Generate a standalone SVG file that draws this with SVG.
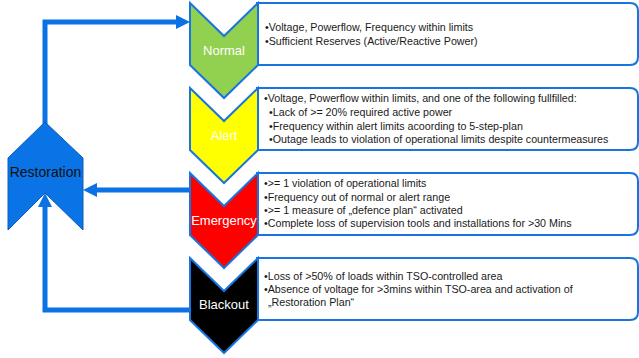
<svg xmlns="http://www.w3.org/2000/svg" width="639" height="358" viewBox="0 0 639 358">
<defs>
<style>
.box{fill:#fff;stroke:#1874E0;stroke-width:2}
.chev{stroke:#1874E0;stroke-width:2;stroke-linejoin:miter}
.lbl{font-family:"Liberation Sans",Arial,sans-serif;font-size:13px;fill:#fff;text-anchor:middle}
.txt{font-family:"Liberation Sans",Arial,sans-serif;font-size:10.7px;fill:#1a1a1a}
.conn{fill:none;stroke:#0A72E2;stroke-width:5;stroke-linejoin:miter}
</style>
<marker id="ah" markerUnits="userSpaceOnUse" markerWidth="16" markerHeight="16" viewBox="0 -8 16 16" refX="0" refY="0" orient="auto">
<path d="M0,-7 L14,0 L0,7 Z" fill="#0A72E2"/>
</marker>
</defs>
<rect width="639" height="358" fill="#fff"/>
<g id="connectors">
<path class="conn" d="M45,124 V22 H176" marker-end="url(#ah)"/>
<path class="conn" d="M191,190 H97" marker-end="url(#ah)"/>
<path class="conn" d="M191,310 H45 V207" marker-end="url(#ah)"/>
</g>
<g id="restoration">
<path d="M45,122 L83,158 V230 L45,193 L8,230 V158 Z" fill="#0A74E6" stroke="#0A5CB8" stroke-width="1"/>
<text x="45.5" y="177" font-family="Liberation Sans,Arial,sans-serif" font-size="14" fill="#111" text-anchor="middle">Restoration</text>
</g>
<g id="normal">
<path class="box" d="M257,3 H630 Q638,3 638,11 V57 Q638,65 630,65 H257 Z"/>
<path class="chev" fill="#92D050" d="M190,3 L224,36 L258,3 V65 L224,98 L190,65 Z"/>
<text class="lbl" x="224" y="55">Normal</text>
<text class="txt" x="265" y="31">•Voltage, Powerflow, Frequency within limits</text>
<text class="txt" x="265" y="45">•Sufficient Reserves (Active/Reactive Power)</text>
</g>
<g id="alert">
<path class="box" d="M257,88 H630 Q638,88 638,96 V142 Q638,150 630,150 H257 Z"/>
<path class="chev" fill="#FFFF00" d="M190,88 L224,121 L258,88 V150 L224,183 L190,150 Z"/>
<text class="lbl" x="224" y="140">Alert</text>
<text class="txt" x="264" y="102">•Voltage, Powerflow within limits, and one of the following fullfilled:</text>
<text class="txt" x="269" y="116">•Lack of &gt;= 20% required active power</text>
<text class="txt" x="269" y="130">•Frequency within alert limits acoording to 5-step-plan</text>
<text class="txt" x="269" y="143">•Outage leads to violation of operational limits despite countermeasures</text>
</g>
<g id="emergency">
<path class="box" d="M257,173 H630 Q638,173 638,181 V227 Q638,235 630,235 H257 Z"/>
<path class="chev" fill="#FF0000" d="M190,173 L224,206 L258,173 V235 L224,268 L190,235 Z"/>
<text class="lbl" x="224" y="225">Emergency</text>
<text class="txt" x="264" y="187">•&gt;= 1 violation of operational limits</text>
<text class="txt" x="264" y="201">•Frequency out of normal or alert range</text>
<text class="txt" x="264" y="214">•&gt;= 1 measure of „defence plan“ activated</text>
<text class="txt" x="264" y="227">•Complete loss of supervision tools and installations for &gt;30 Mins</text>
</g>
<g id="blackout">
<path class="box" d="M257,258 H630 Q638,258 638,266 V312 Q638,320 630,320 H257 Z"/>
<path class="chev" fill="#000000" d="M190,258 L224,291 L258,258 V320 L224,353 L190,320 Z"/>
<text class="lbl" x="224" y="309">Blackout</text>
<text class="txt" x="264" y="280">•Loss of &gt;50% of loads within TSO-controlled area</text>
<text class="txt" x="264" y="293">•Absence of voltage for &gt;3mins within TSO-area and activation of</text>
<text class="txt" x="268" y="306">„Restoration Plan“</text>
</g>
</svg>
